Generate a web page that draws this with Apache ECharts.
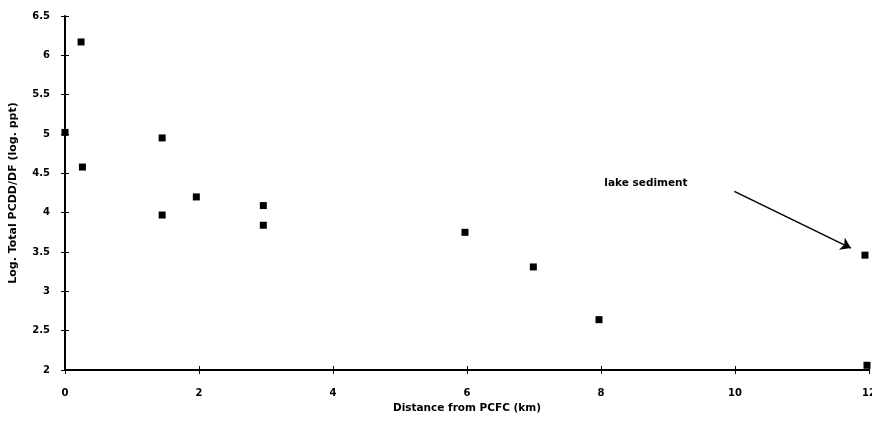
<!DOCTYPE html>
<html><head><meta charset="utf-8">
<script src="https://cdn.jsdelivr.net/npm/echarts@6/dist/echarts.min.js"></script>
<style>html,body{margin:0;padding:0;background:#fff}#c{width:872px;height:422px}</style>
</head><body><div id="c"></div>
<script>
var distances = [0.24, 0, 0.26, 1.45, 1.96, 1.45, 2.96, 2.96, 5.97, 6.99, 7.97, 11.94, 11.97];
var logTotal = [6.17, 5.02, 4.58, 4.95, 4.20, 3.97, 4.09, 3.84, 3.75, 3.31, 2.64, 3.46, 2.06];
var xTicks = [0, 2, 4, 6, 8, 10, 12];
var yTicks = [2, 2.5, 3, 3.5, 4, 4.5, 5, 5.5, 6, 6.5];
var annotationText = 'lake sediment';
var annotationPos = [8.05, 4.37];
var arrowFrom = [9.99, 4.27];
var arrowTo = [11.73, 3.55];

var points = distances.map(function (d, i) { return [d, logTotal[i]]; });
var font = { fontFamily: 'DejaVu Sans, sans-serif', fontWeight: 'bold', fontSize: 10, color: '#000' };
var xNameFont = Object.assign({}, font, { fontSize: 10.5 });
var yNameFont = Object.assign({}, font, { fontSize: 11 });
var noteFont = Object.assign({}, font, { fontSize: 10.5 });

var chart = echarts.init(document.getElementById('c'));
function xAx(show) {
  return {
    type: 'value', min: xTicks[0], max: xTicks[xTicks.length - 1], interval: 2,
    splitLine: { show: false },
    axisLine: { show: show, lineStyle: { color: '#000', width: 2 } },
    axisTick: { show: true, inside: !show, length: 4, lineStyle: { color: '#000', width: 1 } },
    axisLabel: Object.assign({ show: show, margin: 18 }, font),
    name: show ? 'Distance from PCFC (km)' : '', nameLocation: 'middle', nameGap: 25,
    nameTextStyle: xNameFont
  };
}
function yAx(show) {
  return {
    type: 'value', min: yTicks[0], max: yTicks[yTicks.length - 1], interval: 0.5,
    splitLine: { show: false },
    axisLine: { show: show, lineStyle: { color: '#000', width: 2 } },
    axisTick: { show: true, inside: !show, length: 4, lineStyle: { color: '#000', width: 1 } },
    axisLabel: Object.assign({ show: show, margin: 15, formatter: function (v) { return String(v); } }, font),
    name: show ? 'Log. Total PCDD/DF (log. ppt)' : '', nameLocation: 'middle', nameGap: 46,
    nameTextStyle: yNameFont
  };
}
chart.setOption({
  animation: false,
  backgroundColor: '#fff',
  grid: { left: 65, right: 3, top: 16, bottom: 52, containLabel: false, outerBoundsMode: 'none' },
  xAxis: [xAx(true), Object.assign(xAx(false), { position: 'bottom' })],
  yAxis: [yAx(true), Object.assign(yAx(false), { position: 'left' })],
  series: [{
    type: 'scatter',
    data: points,
    symbol: 'rect',
    symbolSize: 7,
    itemStyle: { color: '#000', opacity: 1 },
    markLine: {
      silent: true,
      symbol: ['none', 'arrow'],
      symbolSize: 10,
      lineStyle: { color: '#000', width: 1.5, type: 'solid', opacity: 1 },
      itemStyle: { color: '#000' },
      label: { show: false },
      data: [[{ coord: arrowFrom }, { coord: arrowTo }]]
    },
    markPoint: {
      silent: true,
      symbol: 'circle', symbolSize: 0,
      label: Object.assign({ show: true, position: 'right', distance: 0, formatter: annotationText }, noteFont),
      data: [{ coord: annotationPos }]
    }
  }]
});
</script></body></html>
